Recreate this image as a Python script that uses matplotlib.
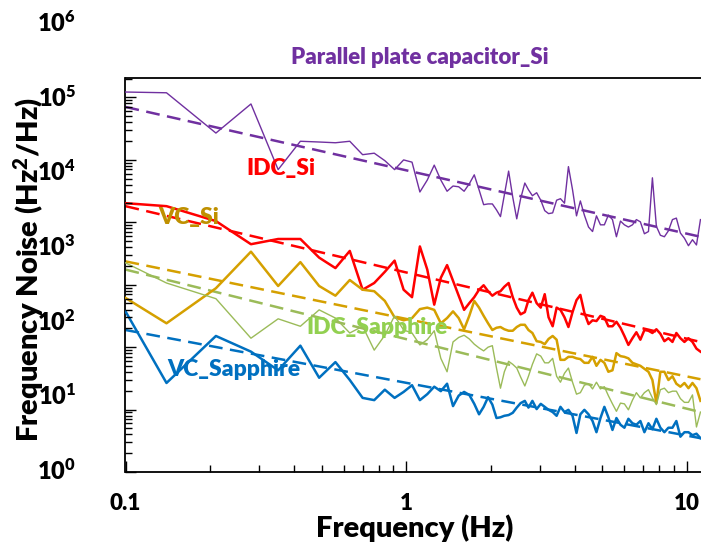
import numpy as np
import matplotlib
matplotlib.use("Agg")
import matplotlib.pyplot as plt
from matplotlib import transforms
from matplotlib.ticker import LogLocator, NullFormatter

plt.rcParams['font.family'] = ['Lato', 'DejaVu Sans']
plt.rcParams['font.weight'] = 'heavy'
plt.rcParams['mathtext.fontset'] = 'custom'
plt.rcParams['mathtext.rm'] = 'Lato:heavy'
plt.rcParams['mathtext.bf'] = 'Lato:heavy'
plt.rcParams['mathtext.it'] = 'Lato:heavy'

# frequency bins (Hz)
freq = [0.10, 0.14, 0.21, 0.28, 0.35, 0.42, 0.49, 0.56, 0.63, 0.70,
        0.77, 0.84, 0.91, 0.98, 1.05, 1.12, 1.19, 1.26, 1.33, 1.40,
        1.47, 1.54, 1.61, 1.68, 1.75, 1.82, 1.89, 1.96, 2.03, 2.10,
        2.17, 2.24, 2.32, 2.40, 2.48, 2.56, 2.65, 2.73, 2.82, 2.92,
        3.02, 3.12, 3.22, 3.33, 3.44, 3.55, 3.67, 3.79, 3.92, 4.05,
        4.18, 4.32, 4.47, 4.62, 4.77, 4.93, 5.09, 5.26, 5.44, 5.62,
        5.81, 6.00, 6.20, 6.41, 6.62, 6.84, 7.07, 7.31, 7.55, 7.80,
        8.06, 8.33, 8.61, 8.90, 9.19, 9.50, 9.82, 10.15, 10.49, 10.84,
        11.20]

# log10 of frequency noise (Hz^2/Hz) for each device
pp_si = [5.08, 5.07, 4.53, 4.92, 4.04, 4.42, 4.41, 4.40, 4.42, 4.24,
         4.26, 4.16, 4.04, 4.17, 4.14, 3.74, 3.90, 4.10, 3.90, 3.75,
         3.82, 3.81, 3.75, 3.85, 3.97, 3.77, 3.57, 3.58, 3.58, 3.50,
         3.41, 3.70, 4.02, 3.67, 3.38, 3.65, 3.86, 3.77, 3.69, 3.73,
         3.63, 3.49, 3.45, 3.46, 3.63, 3.65, 3.59, 4.08, 3.77, 3.42,
         3.62, 3.43, 3.27, 3.21, 3.42, 3.30, 3.30, 3.43, 3.37, 3.14,
         3.35, 3.30, 3.27, 3.30, 3.37, 3.34, 3.18, 3.21, 3.93, 3.28,
         3.16, 3.14, 3.22, 3.37, 3.39, 3.19, 3.12, 3.02, 3.10, 3.03,
         3.37]
idc_si = [3.59, 3.55, 3.35, 3.04, 3.11, 3.11, 2.86, 2.72, 2.95, 2.43,
          2.52, 2.67, 2.82, 2.43, 2.33, 3.01, 2.70, 2.23, 2.59, 2.76,
          2.55, 2.35, 2.16, 2.25, 2.33, 2.43, 2.49, 2.41, 2.35, 2.39,
          2.41, 2.47, 2.52, 2.33, 2.19, 2.10, 2.13, 2.29, 2.39, 2.25,
          2.19, 2.37, 2.06, 1.94, 2.19, 2.16, 2.06, 1.93, 2.13, 2.29,
          2.36, 2.12, 1.97, 2.02, 2.01, 2.08, 2.06, 1.94, 1.94, 2.00,
          1.92, 1.81, 1.69, 1.78, 1.86, 1.76, 1.89, 1.88, 1.85, 1.90,
          1.84, 1.74, 1.78, 1.73, 1.85, 1.78, 1.73, 1.78, 1.73, 1.64,
          1.60]
vc_si = [2.32, 1.98, 2.45, 2.94, 2.48, 2.80, 2.48, 2.35, 2.56, 2.43,
         2.41, 2.28, 2.06, 2.02, 2.05, 2.17, 2.19, 2.16, 1.98, 2.05,
         2.14, 2.05, 1.90, 2.08, 2.28, 2.19, 2.08, 1.98, 1.89, 1.92,
         1.93, 1.90, 1.88, 1.88, 1.93, 1.96, 1.96, 1.89, 1.85, 1.74,
         1.73, 1.70, 1.77, 1.81, 1.76, 1.49, 1.49, 1.53, 1.53, 1.51,
         1.50, 1.45, 1.45, 1.53, 1.41, 1.49, 1.45, 1.33, 1.35, 1.58,
         1.54, 1.53, 1.51, 1.45, 1.43, 1.41, 1.37, 1.33, 1.22, 0.91,
         1.33, 1.33, 1.22, 1.27, 1.17, 1.13, 1.18, 1.11, 1.18, 1.11,
         0.94]
idc_sapphire = [2.79, 2.52, 2.31, 1.78, 2.04, 1.94, 2.16, 2.05, 1.85, 1.94,
                1.62, 1.82, 2.08, 1.89, 1.85, 1.69, 1.76, 1.88, 1.51, 1.33,
                1.73, 1.79, 1.82, 1.77, 1.70, 1.65, 1.61, 1.66, 1.68, 1.38,
                1.11, 1.33, 1.47, 1.43, 1.38, 1.26, 1.14, 1.27, 1.43, 1.57,
                1.54, 1.45, 1.45, 1.51, 1.27, 1.19, 1.31, 1.38, 1.19, 1.03,
                1.05, 1.15, 1.17, 1.10, 1.19, 1.10, 1.13, 1.01, 0.90, 0.80,
                0.91, 0.90, 0.82, 0.95, 1.05, 0.98, 1.05, 1.09, 0.98, 0.89,
                1.09, 1.11, 1.05, 1.07, 1.07, 0.97, 0.92, 0.92, 1.02, 0.59,
                0.79]
vc_sapphire = [2.14, 1.18, 1.81, 1.60, 1.35, 1.68, 1.25, 1.46, 1.22, 0.98,
               0.95, 1.09, 0.98, 1.06, 1.15, 0.95, 1.03, 1.13, 1.07, 1.17,
               0.87, 1.01, 1.06, 1.02, 0.90, 0.76, 0.86, 0.99, 0.89, 0.71,
               0.72, 0.74, 0.75, 0.78, 0.85, 0.91, 0.94, 0.85, 0.94, 0.83,
               0.90, 0.86, 0.82, 0.79, 0.74, 0.86, 0.79, 0.82, 0.74, 0.51,
               0.76, 0.82, 0.76, 0.67, 0.52, 0.71, 0.86, 0.72, 0.55, 0.71,
               0.62, 0.58, 0.70, 0.64, 0.62, 0.67, 0.52, 0.64, 0.56, 0.70,
               0.58, 0.52, 0.58, 0.58, 0.67, 0.46, 0.52, 0.52, 0.48, 0.50,
               0.44]

# power-law fits, log10 values at the two ends of the range
fit_freq = [0.1, 11.2]
fit_pp_si = [4.88, 3.14]
fit_idc_si = [3.55, 1.73]
fit_vc_si = [2.81, 1.23]
fit_idc_sapphire = [2.70, 0.79]
fit_vc_sapphire = [1.89, 0.44]

series = [
    (pp_si, fit_pp_si, '#7030A0', 1.0),
    (idc_si, fit_idc_si, '#FF0000', 1.8),
    (vc_si, fit_vc_si, '#D5A000', 1.8),
    (idc_sapphire, fit_idc_sapphire, '#9BBB59', 1.0),
    (vc_sapphire, fit_vc_sapphire, '#0070C0', 1.8),
]

fig = plt.figure(figsize=(7.01, 5.5), dpi=100)
rect = [125.5 / 701, 78 / 550, 575.5 / 701, 394 / 550]
ax = fig.add_axes(rect)

for vals, fit, color, lw in series:
    ax.plot(freq, 10 ** np.array(vals), color=color, lw=lw, zorder=3)
    ax.plot(fit_freq, 10 ** np.array(fit), color=color, lw=1.8,
            linestyle=(0, (5.5, 3)), zorder=2)

ax.set_xscale('log')
ax.set_yscale('log')
ax.set_xlim(0.1, 11.25)
ax.set_ylim(10 ** -0.0134, 10 ** 5.268)

ax.set_xticks([0.1, 1, 10])
ax.set_xticklabels(['0.1', '1', '10'])
ax.xaxis.set_minor_locator(LogLocator(base=10, subs=np.arange(2, 10), numticks=50))
ax.xaxis.set_minor_formatter(NullFormatter())
ax.tick_params(axis='x', which='major', direction='in', length=8, width=1,
               labelsize=16, pad=15)
ax.tick_params(axis='x', which='minor', direction='in', length=5, width=1)
ax.tick_params(axis='y', which='both', left=False, labelleft=False)
ax.spines['right'].set_visible(False)
for s in ['left', 'bottom', 'top']:
    ax.spines[s].set_linewidth(1.3)

# decade labels on the left
trans = transforms.blended_transform_factory(ax.transAxes, ax.transData)
for k in range(7):
    ax.text(-0.086, 10 ** k, r'$\mathbf{10^{%d}}$' % k, transform=trans,
            ha='right', va='center', fontsize=17, clip_on=False)

# tick marks along the left spine on their own decade spacing
ax2 = fig.add_axes(rect, frameon=False)
ax2.set_yscale('log')
ax2.set_ylim(1, 10 ** 6.31)
ax2.xaxis.set_visible(False)
ax2.patch.set_visible(False)
ax2.yaxis.set_major_locator(LogLocator(base=10, numticks=20))
ax2.yaxis.set_minor_locator(LogLocator(base=10, subs=np.arange(2, 10), numticks=50))
ax2.yaxis.set_minor_formatter(NullFormatter())
ax2.tick_params(axis='y', which='both', direction='in', labelleft=False)
ax2.tick_params(axis='y', which='major', length=8, width=1)
ax2.tick_params(axis='y', which='minor', length=5, width=1)

# curve labels
ax.text(0.358, 10 ** 4.05, 'IDC_Si', color='#FF0000', fontsize=16.5,
        ha='center', va='center')
ax.text(0.168, 10 ** 3.40, 'VC_Si', color='#BF9000', fontsize=16.5,
        ha='center', va='center')
ax.text(0.788, 10 ** 1.93, 'IDC_Sapphire', color='#92D050', fontsize=16.5,
        ha='center', va='center')
ax.text(0.2436, 10 ** 1.354, 'VC_Sapphire', color='#0070C0', fontsize=16.5,
        ha='center', va='center')

fig.text(420 / 701, 1 - 57 / 550, 'Parallel plate capacitor_Si',
         color='#7030A0', fontsize=16, ha='center', va='center')
fig.text(415 / 701, 1 - 528 / 550, 'Frequency (Hz)', fontsize=21,
         ha='center', va='center')
fig.text(29 / 701, 1 - 270 / 550, r'Frequency Noise (Hz$^{\mathbf{2}}$/Hz)',
         fontsize=21, rotation=90, ha='center', va='center')

fig.savefig('out.png', dpi=100)
